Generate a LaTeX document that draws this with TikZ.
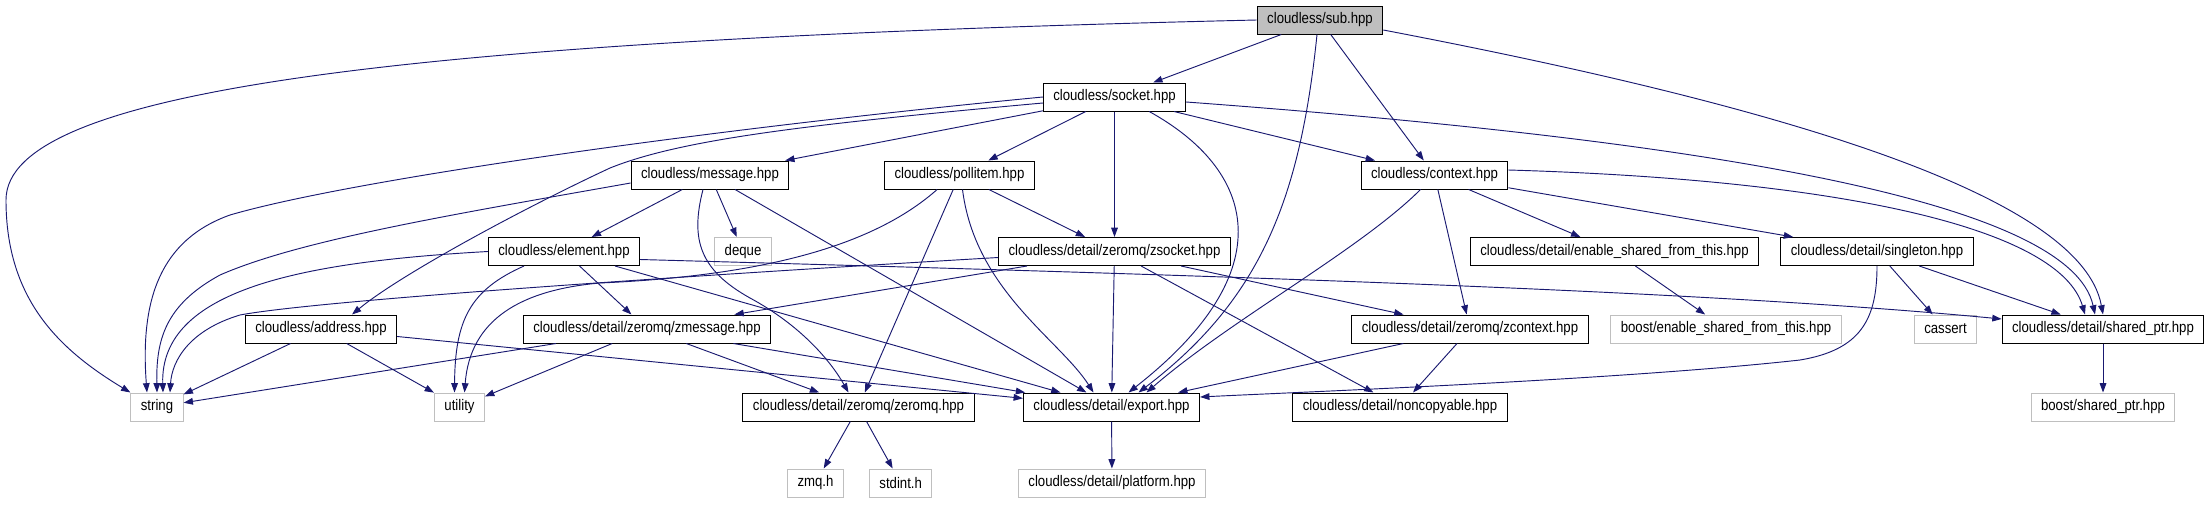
\documentclass[tikz,border=0pt]{standalone}
\usepackage{fontspec}
\setmainfont[FakeStretch=0.86]{Liberation Sans}
\usepackage{tikz}
\usetikzlibrary{arrows.meta,calc}
\definecolor{midnight}{HTML}{191970}
\definecolor{grey75}{HTML}{BFBFBF}

\begin{document}
\begin{tikzpicture}[x=0.75pt, y=-0.75pt,
	file/.style = {draw=black, fill=white, line width=0.75pt, inner xsep=7.5pt, inner ysep=0pt, minimum height=21pt, font=\fontsize{11.5}{13}\selectfont},
	sysfile/.style = {file, draw=grey75},
	mainfile/.style = {file, fill=grey75},
	inc/.style = {draw=midnight, line width=0.7pt, -{Triangle[length=7pt,width=5pt]}}]
	\useasboundingbox (0,0) rectangle (2211,504);
	% rows of the include graph
	\node [mainfile] (sub) at (1320,20) {cloudless/sub.hpp};
	\node [file] (socket) at (1114.5,97) {cloudless/socket.hpp};
	\node [file] (message) at (710,175) {cloudless/message.hpp};
	\node [file] (pollitem) at (959.5,175) {cloudless/pollitem.hpp};
	\node [file] (context) at (1434.5,175) {cloudless/context.hpp};
	\node [file] (element) at (564,251.5) {cloudless/element.hpp};
	\node [sysfile] (deque) at (743,251.5) {deque};
	\node [file] (zsocket) at (1114.5,251.5) {cloudless/detail/zeromq/zsocket.hpp};
	\node [file] (enable) at (1614.5,251.5) {cloudless/detail/enable\_shared\_from\_this.hpp};
	\node [file] (singleton) at (1877,251.5) {cloudless/detail/singleton.hpp};
	\node [file] (address) at (321,329) {cloudless/address.hpp};
	\node [file] (zmessage) at (647,329) {cloudless/detail/zeromq/zmessage.hpp};
	\node [file] (zcontext) at (1470,329) {cloudless/detail/zeromq/zcontext.hpp};
	\node [sysfile] (boostenable) at (1726,329) {boost/enable\_shared\_from\_this.hpp};
	\node [sysfile] (cassert) at (1945.5,329) {cassert};
	\node [file] (sharedptr) at (2103,329) {cloudless/detail/shared\_ptr.hpp};
	\node [sysfile] (string) at (157,407) {string};
	\node [sysfile] (utility) at (459.5,407) {utility};
	\node [file] (zeromq) at (858.5,407) {cloudless/detail/zeromq/zeromq.hpp};
	\node [file] (export) at (1111.5,407) {cloudless/detail/export.hpp};
	\node [file] (noncopyable) at (1400,407) {cloudless/detail/noncopyable.hpp};
	\node [sysfile] (boostshared) at (2103,407) {boost/shared\_ptr.hpp};
	\node [sysfile] (zmq) at (815.5,483) {zmq.h};
	\node [sysfile] (stdint) at (900.7,483) {stdint.h};
	\node [sysfile] (platform) at (1112,483) {cloudless/detail/platform.hpp};

	% sub.hpp
	\draw [inc] (sub.west) .. controls (400,40) and (6,90) .. (6,200) .. controls (6,300) and (60,350) .. (string.north west);
	\draw [inc] (sub) -- (socket);
	\draw [inc] ($(sub.south)+(-3,0)$) .. controls (1300,200) and (1260,300) .. ($(export.north)+(27,0)$);
	\draw [inc] (sub) -- (context);
	\draw [inc] ($(sub.east)+(0,10)$) .. controls (1750,100) and (2080,190) .. (sharedptr.north);
	% socket.hpp
	\draw [inc] (socket.west) .. controls (700,130) and (350,180) .. (230,215) .. controls (160,240) and (140,300) .. ($(string.north)+(-10,0)$);
	\draw [inc] ($(socket.west)+(0,6)$) .. controls (800,125) and (680,140) .. (610,168) .. controls (520,210) and (400,275) .. ($(address.north)+(31,0)$);
	\draw [inc] (socket) -- (message);
	\draw [inc] (socket) -- (pollitem);
	\draw [inc] (socket) -- (zsocket);
	\draw [inc] ($(socket.south east)+(-37,0)$) .. controls (1255,170) and (1285,270) .. ($(export.north)+(17,0)$);
	\draw [inc] (socket) -- (context);
	\draw [inc] ($(socket.east)+(0,5)$) .. controls (1700,140) and (2070,200) .. ($(sharedptr.north)+(-8,0)$);
	% message.hpp
	\draw [inc] ($(message.west)+(0,8)$) .. controls (450,215) and (300,240) .. (220,275) .. controls (165,305) and (156,340) .. (string.north);
	\draw [inc] (message) -- (element);
	\draw [inc] (message) -- (deque);
	\draw [inc] ($(message.south)+(-7,0)$) .. controls (690,240) and (700,270) .. (750,298) .. controls (800,325) and (830,360) .. ($(zeromq.north)+(-10,0)$);
	\draw [inc] (message) -- (export);
	% pollitem.hpp
	\draw [inc] ($(pollitem.south west)+(53,0)$) .. controls (880,240) and (780,275) .. (600,283) .. controls (520,290) and (470,320) .. ($(utility.north)+(5,0)$);
	\draw [inc] (pollitem) -- (zsocket);
	\draw [inc] (pollitem) -- (zeromq);
	\draw [inc] ($(pollitem.south)+(3,0)$) .. controls (975,290) and (1060,340) .. ($(export.north)+(-18,0)$);
	% context.hpp
	\draw [inc] ($(context.south)+(-14,0)$) .. controls (1360,250) and (1230,320) .. ($(export.north)+(35,0)$);
	\draw [inc] (context) -- (zcontext);
	\draw [inc] (context) -- (enable);
	\draw [inc] (context) -- (singleton);
	\draw [inc] ($(context.east)+(0,-5)$) .. controls (1850,180) and (2060,230) .. ($(sharedptr.north)+(-18,0)$);
	% element.hpp
	\draw [inc] (element.west) .. controls (300,262) and (160,290) .. ($(string.north)+(6,0)$);
	\draw [inc] ($(element.south)+(-40,0)$) .. controls (470,290) and (455,320) .. ($(utility.north)+(-5,0)$);
	\draw [inc] (element) -- (zmessage);
	\draw [inc] (element) -- (export);
	\draw [inc] ($(element.east)+(0,8)$) .. controls (1200,275) and (1700,290) .. ($(sharedptr.west)+(0,-10)$);
	% zsocket.hpp
	\draw [inc] ($(zsocket.west)+(0,6)$) .. controls (700,275) and (320,300) .. (240,315) .. controls (190,330) and (172,360) .. ($(string.north)+(13,0)$);
	\draw [inc] (zsocket) -- (zmessage);
	\draw [inc] (zsocket) -- (export);
	\draw [inc] (zsocket) -- (zcontext);
	\draw [inc] (zsocket) -- (noncopyable);
	% address.hpp
	\draw [inc] (address) -- (string);
	\draw [inc] (address) -- (utility);
	\draw [inc] (address) -- (export);
	% zmessage.hpp
	\draw [inc] (zmessage) -- (string);
	\draw [inc] (zmessage) -- (utility);
	\draw [inc] (zmessage) -- (zeromq);
	\draw [inc] (zmessage) -- (export);
	% zcontext.hpp
	\draw [inc] (zcontext) -- (export);
	\draw [inc] (zcontext) -- (noncopyable);
	% enable_shared_from_this.hpp and singleton.hpp
	\draw [inc] (enable) -- (boostenable);
	\draw [inc] (singleton) -- (cassert);
	\draw [inc] (singleton) -- (sharedptr);
	\draw [inc] (singleton.south) .. controls (1877,320) and (1860,350) .. (1800,360) .. controls (1620,380) and (1300,392) .. ($(export.east)+(0,-10)$);
	% bottom rows
	\draw [inc] (sharedptr) -- (boostshared);
	\draw [inc] (zeromq) -- (zmq);
	\draw [inc] (zeromq) -- (stdint);
	\draw [inc] (export) -- (platform);
\end{tikzpicture}
\end{document}
